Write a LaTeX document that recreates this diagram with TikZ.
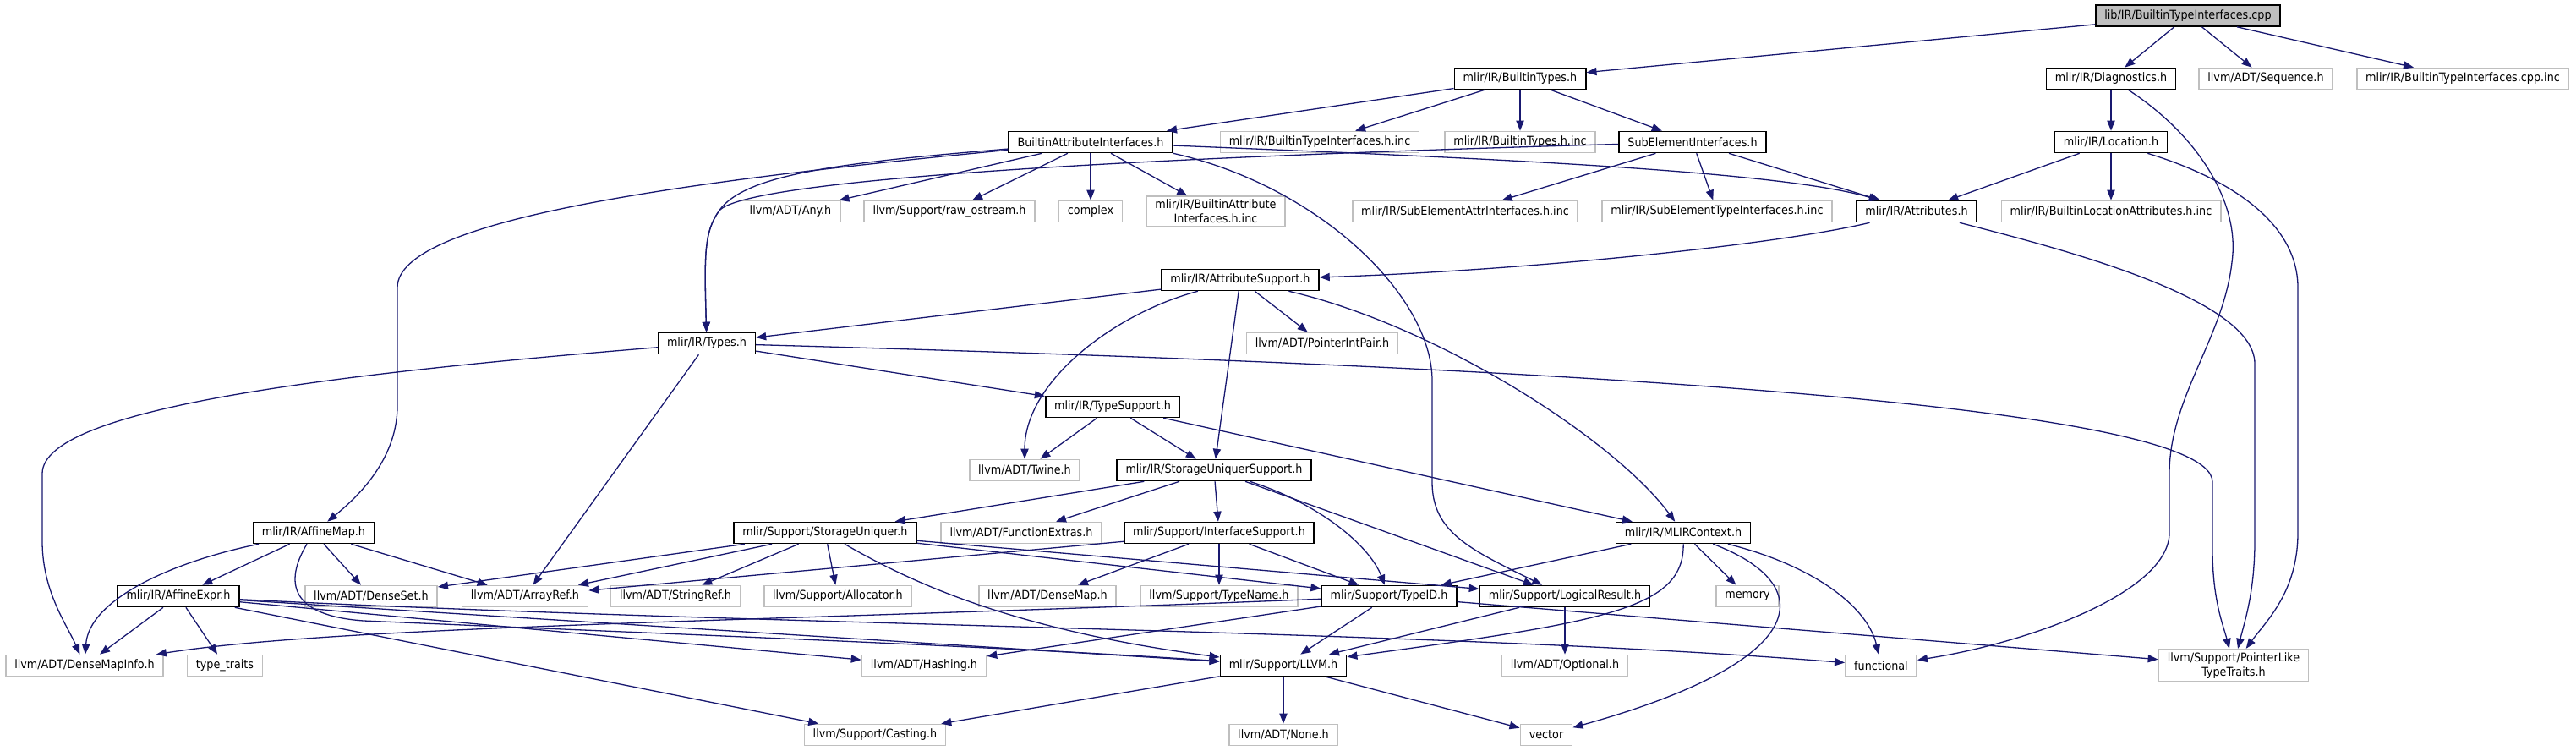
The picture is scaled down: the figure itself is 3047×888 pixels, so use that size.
\documentclass[tikz,border=0pt]{standalone}
\usepackage{fontspec}
\setmainfont{DejaVu Sans Condensed}
\usepackage{xcolor}
\usepackage{tikz}
\usetikzlibrary{arrows.meta}
\definecolor{Midnight}{RGB}{25,25,112}
\definecolor{Grey75}{RGB}{191,191,191}
\newcommand{\graphfont}{\fontsize{7.1}{8.4}\selectfont}
\tikzset{
  incbox/.style={draw=black,fill=white,line width=0.8pt,minimum height=12.5pt,inner xsep=5.2pt,inner ysep=2pt,align=center,font=\graphfont},
  extbox/.style={incbox,draw=Grey75},
  rootbox/.style={incbox,fill=Grey75},
  dep/.style={-{Triangle[length=6pt,width=4.6pt]},line width=0.65pt,draw=Midnight}
}
\begin{document}
\begin{tikzpicture}[x=0.5pt,y=-0.5pt]
\useasboundingbox (0,0) rectangle (3047,888);
\node[rootbox] (root) at (2588,18.5) {lib/IR/BuiltinTypeInterfaces.cpp};
\node[incbox] (bt) at (1798,93) {mlir/IR/BuiltinTypes.h};
\node[incbox] (diag) at (2497,93) {mlir/IR/Diagnostics.h};
\node[extbox] (seq) at (2680,93) {llvm/ADT/Sequence.h};
\node[extbox] (cppinc) at (2913,93) {mlir/IR/BuiltinTypeInterfaces.cpp.inc};
\node[incbox] (bai) at (1290,168) {BuiltinAttributeInterfaces.h};
\node[extbox] (btiinc) at (1561,168) {mlir/IR/BuiltinTypeInterfaces.h.inc};
\node[extbox] (btinc) at (1798,168) {mlir/IR/BuiltinTypes.h.inc};
\node[incbox] (sei) at (2002,168) {SubElementInterfaces.h};
\node[incbox] (loc) at (2497,168) {mlir/IR/Location.h};
\node[extbox] (any) at (935,250) {llvm/ADT/Any.h};
\node[extbox] (rawos) at (1123,250) {llvm/Support/raw\_ostream.h};
\node[extbox] (cplx) at (1290,250) {complex};
\node[extbox] (baiinc) at (1438,250) {mlir/IR/BuiltinAttribute\\Interfaces.h.inc};
\node[extbox] (seattr) at (1733,250) {mlir/IR/SubElementAttrInterfaces.h.inc};
\node[extbox] (setype) at (2031,250) {mlir/IR/SubElementTypeInterfaces.h.inc};
\node[incbox] (attrs) at (2267,250) {mlir/IR/Attributes.h};
\node[extbox] (locinc) at (2497,250) {mlir/IR/BuiltinLocationAttributes.h.inc};
\node[incbox] (attrsup) at (1467,331) {mlir/IR/AttributeSupport.h};
\node[incbox] (types) at (836,406) {mlir/IR/Types.h};
\node[extbox] (pip) at (1564,406) {llvm/ADT/PointerIntPair.h};
\node[incbox] (typesup) at (1316,481) {mlir/IR/TypeSupport.h};
\node[extbox] (twine) at (1212,556) {llvm/ADT/Twine.h};
\node[incbox] (sus) at (1436,556) {mlir/IR/StorageUniquerSupport.h};
\node[incbox] (affmap) at (371,630) {mlir/IR/AffineMap.h};
\node[incbox] (su) at (976,630) {mlir/Support/StorageUniquer.h};
\node[extbox] (fnext) at (1208,630) {llvm/ADT/FunctionExtras.h};
\node[incbox] (ifs) at (1442,630) {mlir/Support/InterfaceSupport.h};
\node[incbox] (mlirctx) at (1991,630) {mlir/IR/MLIRContext.h};
\node[incbox] (affexpr) at (211,705) {mlir/IR/AffineExpr.h};
\node[extbox] (denseset) at (439,705) {llvm/ADT/DenseSet.h};
\node[extbox] (arrayref) at (621,705) {llvm/ADT/ArrayRef.h};
\node[extbox] (stringref) at (799,705) {llvm/ADT/StringRef.h};
\node[extbox] (alloc) at (991,705) {llvm/Support/Allocator.h};
\node[extbox] (densemap) at (1239,705) {llvm/ADT/DenseMap.h};
\node[extbox] (typename) at (1442,705) {llvm/Support/TypeName.h};
\node[incbox] (typeid) at (1643,705) {mlir/Support/TypeID.h};
\node[incbox] (logres) at (1851,705) {mlir/Support/LogicalResult.h};
\node[extbox] (memory) at (2067,705) {memory};
\node[extbox] (dmi) at (100,787) {llvm/ADT/DenseMapInfo.h};
\node[extbox] (tytraits) at (266,787) {type\_traits};
\node[extbox] (hashing) at (1093,787) {llvm/ADT/Hashing.h};
\node[incbox] (llvm) at (1518,787) {mlir/Support/LLVM.h};
\node[extbox] (optional) at (1851,787) {llvm/ADT/Optional.h};
\node[extbox] (functional) at (2225,787) {functional};
\node[extbox] (plt) at (2642,787) {llvm/Support/PointerLike\\TypeTraits.h};
\node[extbox] (casting) at (1035,869) {llvm/Support/Casting.h};
\node[extbox] (none) at (1518,869) {llvm/ADT/None.h};
\node[extbox] (vector) at (1829,869) {vector};
\draw[dep] (root) -- (bt);
\draw[dep] (root) -- (diag);
\draw[dep] (root) -- (seq);
\draw[dep] (root) -- (cppinc);
\draw[dep] (bt) -- (bai);
\draw[dep] (bt) -- (btiinc);
\draw[dep] (bt) -- (btinc);
\draw[dep] (bt) -- (sei);
\draw[dep] (diag) -- (loc);
\draw[dep] (diag) .. controls (2600,160) and (2650,240) .. (2640,310) .. controls (2630,400) and (2566,470) .. (2566,560) -- (2566,630) .. controls (2566,700) and (2400,760) .. (functional);
\draw[dep] (bai) -- (any);
\draw[dep] (bai) -- (rawos);
\draw[dep] (bai) -- (cplx);
\draw[dep] (bai) -- (baiinc);
\draw[dep] (bai) .. controls (1700,185) and (2100,200) .. (attrs);
\draw[dep] (bai) .. controls (1000,192) and (880,205) .. (850,250) .. controls (833,275) and (833,300) .. (types);
\draw[dep] (bai) .. controls (800,215) and (470,260) .. (470,340) -- (470,480) .. controls (470,545) and (420,590) .. (affmap);
\draw[dep] (bai.south east) .. controls (1560,220) and (1694,350) .. (1694,450) -- (1694,570) .. controls (1694,630) and (1740,650) .. (logres);
\draw[dep] (sei) -- (seattr);
\draw[dep] (sei) -- (setype);
\draw[dep] (sei) -- (attrs);
\draw[dep] (sei) .. controls (1500,182) and (880,206) .. (850,250) .. controls (833,275) and (833,300) .. (types);
\draw[dep] (loc) -- (attrs);
\draw[dep] (loc) -- (locinc);
\draw[dep] (loc) .. controls (2650,215) and (2718,270) .. (2718,340) -- (2718,630) .. controls (2718,700) and (2680,735) .. (plt);
\draw[dep] (attrs) .. controls (2100,290) and (1800,320) .. (attrsup);
\draw[dep] (attrs) .. controls (2420,290) and (2667,350) .. (2667,430) -- (2667,640) .. controls (2667,700) and (2655,735) .. (plt);
\draw[dep] (attrsup) -- (types);
\draw[dep] (attrsup) -- (sus);
\draw[dep] (attrsup) -- (pip);
\draw[dep] (attrsup) .. controls (1320,370) and (1212,450) .. (twine);
\draw[dep] (attrsup) .. controls (1700,385) and (1910,520) .. (mlirctx);
\draw[dep] (types) -- (typesup);
\draw[dep] (types) -- (arrayref);
\draw[dep] (types) .. controls (420,440) and (50,480) .. (50,560) -- (50,640) .. controls (50,700) and (80,740) .. (dmi);
\draw[dep] (types) .. controls (1700,430) and (2617,470) .. (2617,570) -- (2617,650) .. controls (2617,710) and (2630,740) .. (plt);
\draw[dep] (typesup) -- (twine);
\draw[dep] (typesup) -- (sus);
\draw[dep] (typesup) -- (mlirctx);
\draw[dep] (sus) -- (su);
\draw[dep] (sus) -- (fnext);
\draw[dep] (sus) -- (ifs);
\draw[dep] (sus) -- (logres);
\draw[dep] (sus) .. controls (1560,595) and (1620,645) .. (typeid);
\draw[dep] (affmap) -- (affexpr);
\draw[dep] (affmap) -- (denseset);
\draw[dep] (affmap) -- (arrayref);
\draw[dep] (affmap) .. controls (200,665) and (105,710) .. (dmi);
\draw[dep] (affmap) .. controls (335,690) and (345,728) .. (430,734) .. controls (800,750) and (1200,765) .. (llvm);
\draw[dep] (su) -- (denseset);
\draw[dep] (su) -- (arrayref);
\draw[dep] (su) -- (stringref);
\draw[dep] (su) -- (alloc);
\draw[dep] (su) -- (typeid);
\draw[dep] (su) -- (logres);
\draw[dep] (su) .. controls (1080,690) and (1200,745) .. (llvm);
\draw[dep] (ifs) -- (arrayref);
\draw[dep] (ifs) -- (densemap);
\draw[dep] (ifs) -- (typename);
\draw[dep] (ifs) -- (typeid);
\draw[dep] (mlirctx) -- (typeid);
\draw[dep] (mlirctx) -- (memory);
\draw[dep] (mlirctx) .. controls (1992,720) and (1900,735) .. (llvm);
\draw[dep] (mlirctx) .. controls (2150,670) and (2210,720) .. (functional);
\draw[dep] (mlirctx) .. controls (2150,690) and (2150,780) .. (vector);
\draw[dep] (affexpr) -- (dmi);
\draw[dep] (affexpr) -- (tytraits);
\draw[dep] (affexpr) -- (hashing);
\draw[dep] (affexpr) -- (llvm);
\draw[dep] (affexpr) -- (casting);
\draw[dep] (affexpr) .. controls (900,740) and (1700,745) .. (functional);
\draw[dep] (typeid) -- (llvm);
\draw[dep] (typeid) -- (hashing);
\draw[dep] (typeid) -- (plt);
\draw[dep] (typeid) .. controls (900,735) and (400,740) .. (dmi);
\draw[dep] (logres) -- (llvm);
\draw[dep] (logres) -- (optional);
\draw[dep] (llvm) -- (casting);
\draw[dep] (llvm) -- (none);
\draw[dep] (llvm) -- (vector);
\end{tikzpicture}
\end{document}
